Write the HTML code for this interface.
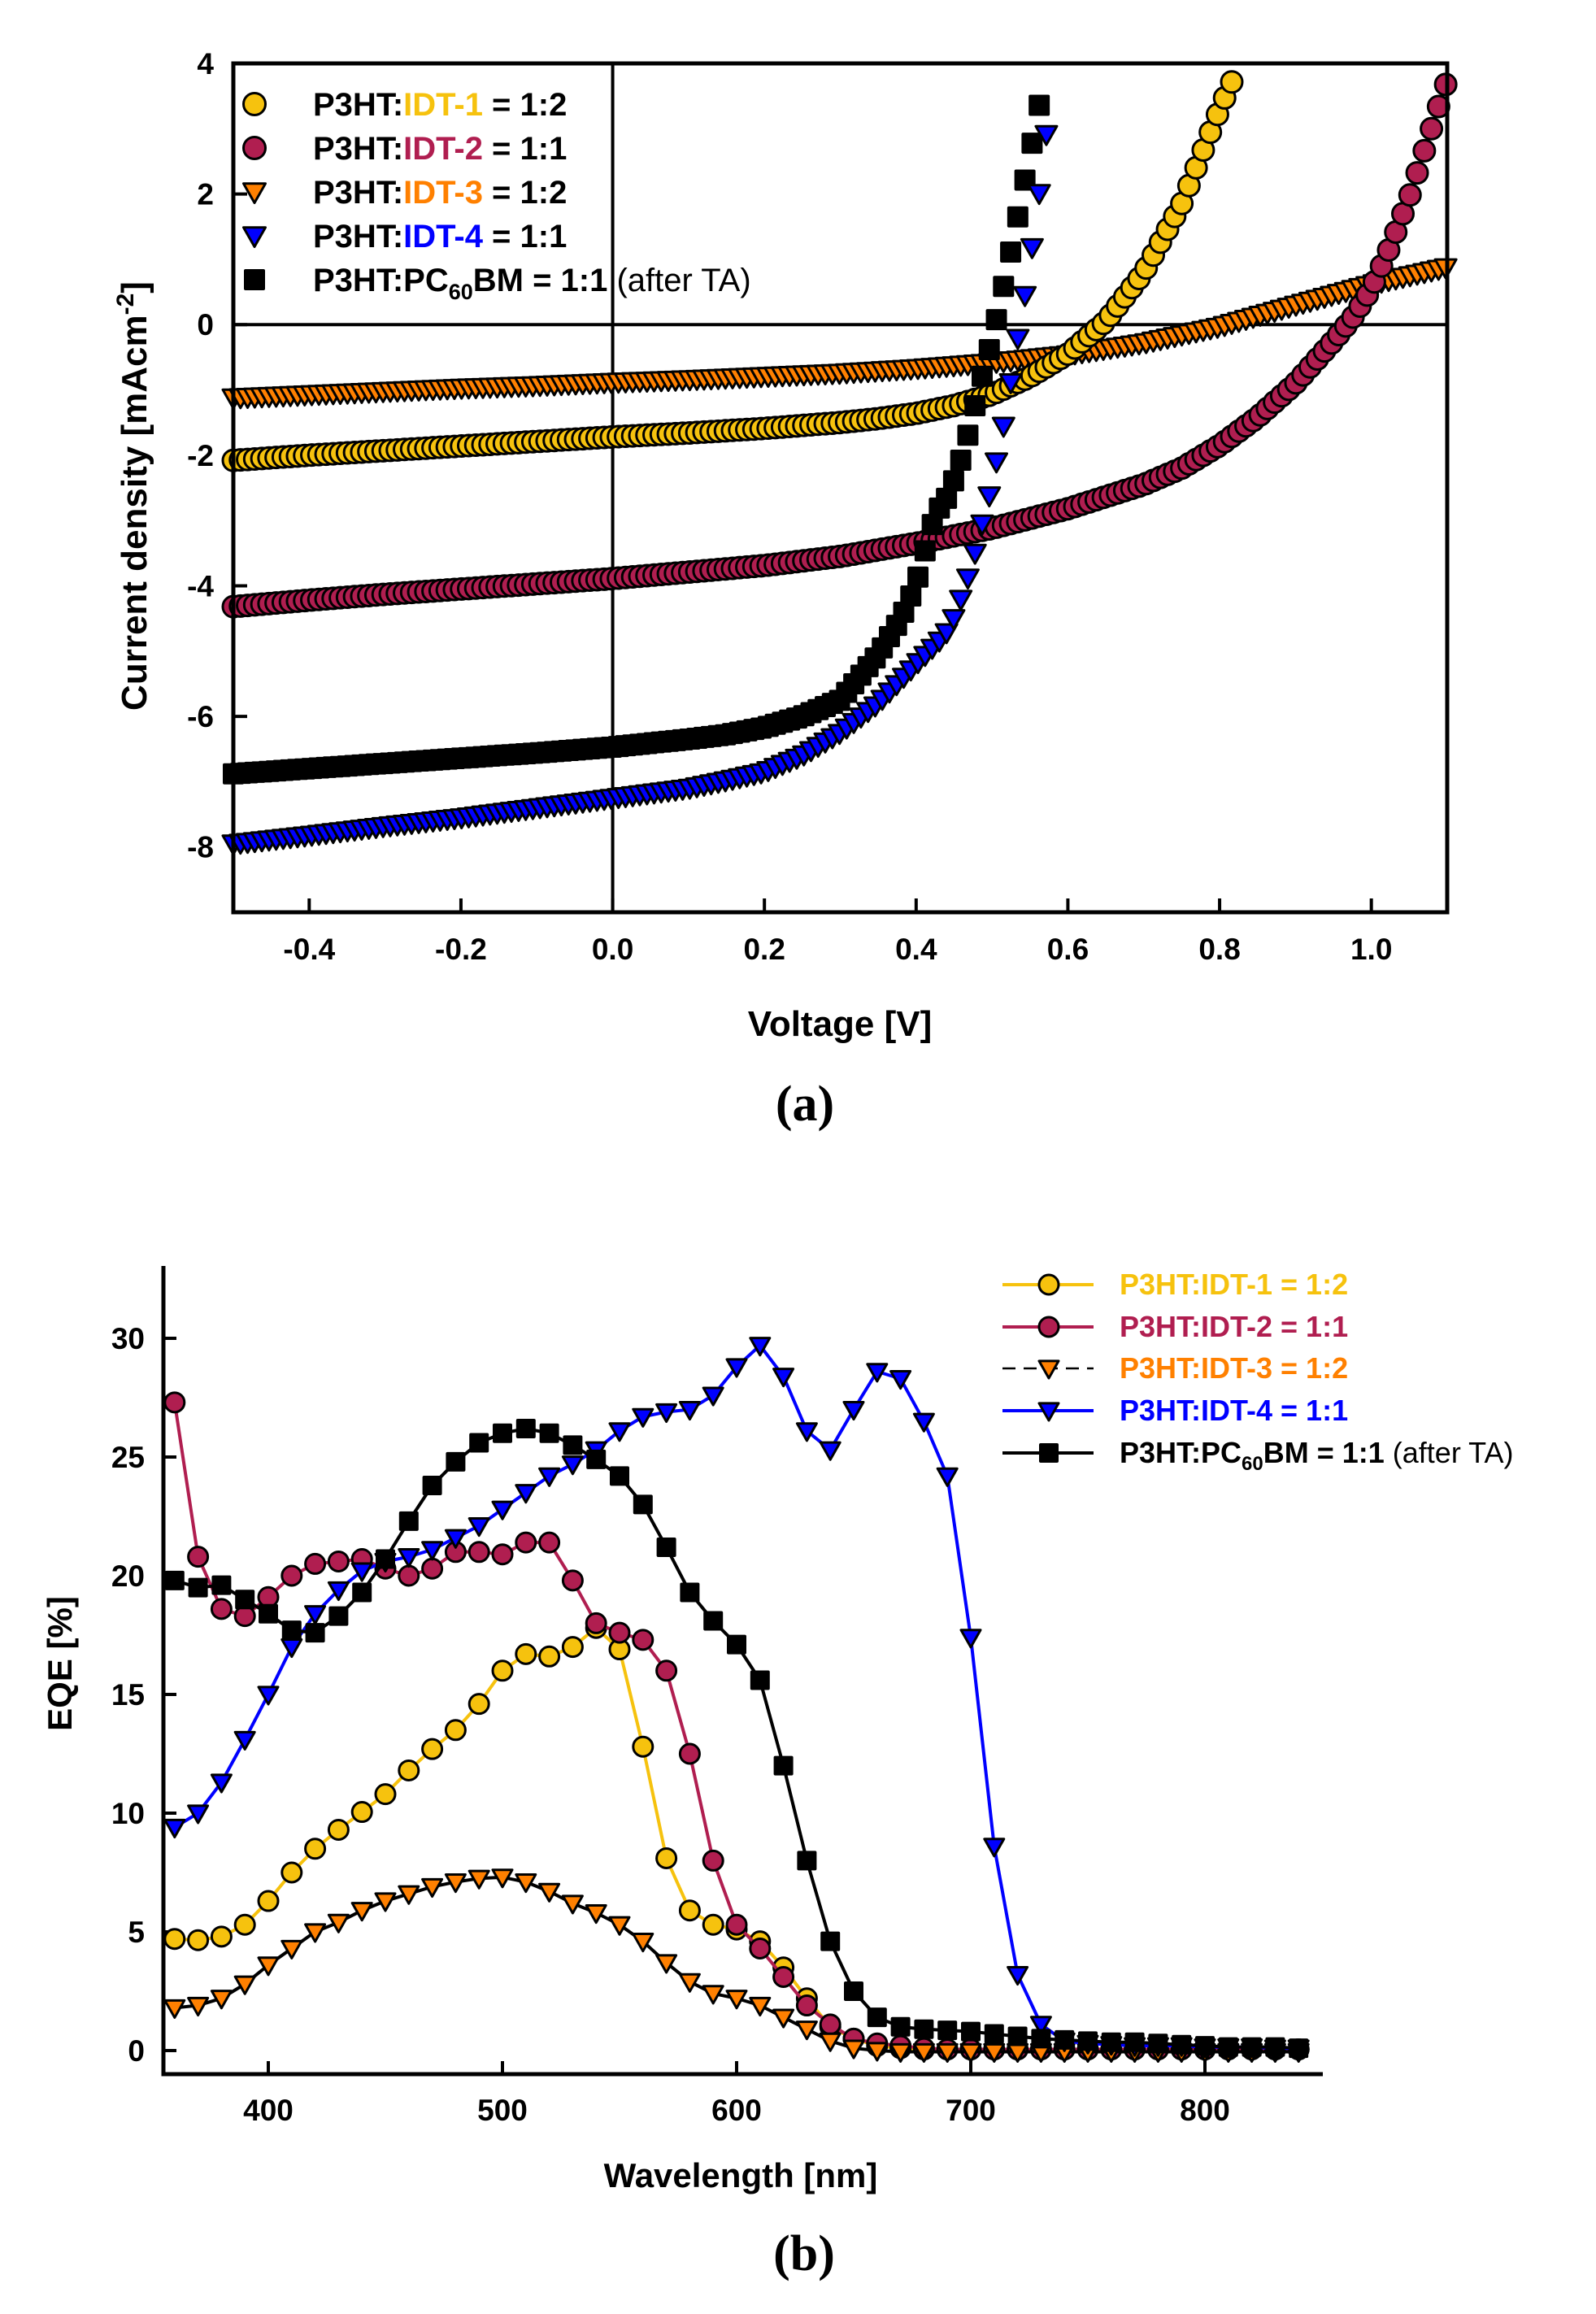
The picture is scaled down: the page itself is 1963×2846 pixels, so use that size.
<!DOCTYPE html>
<html><head><meta charset="utf-8"><style>
html,body{margin:0;padding:0;background:#fff;}
svg{display:block;font-family:"Liberation Sans",sans-serif;}
</style></head><body>
<svg id="chart" width="1963" height="2846" viewBox="0 0 1963 2846" xmlns="http://www.w3.org/2000/svg">
<g id="pa"></g>
<g id="pb"></g>
</svg>
<script>
// ===== Panel (a) data: J-V curves =====
const jvTicksX = [-0.4,-0.2,0.0,0.2,0.4,0.6,0.8,1.0];
const jvTickLabelsX = ["-0.4","-0.2","0.0","0.2","0.4","0.6","0.8","1.0"];
const jvTicksY = [4,2,0,-2,-4,-6,-8];
const jvTickLabelsY = ["4","2","0","-2","-4","-6","-8"];
const idt1V = [-0.5,-0.4,-0.3,-0.2,-0.1,0,0.1,0.2,0.3,0.35,0.4,0.45,0.5,0.55,0.6,0.65,0.7,0.75,0.8,0.825];
const idt1J = [-2.08,-2.0,-1.93,-1.86,-1.79,-1.72,-1.66,-1.59,-1.50,-1.44,-1.36,-1.24,-1.07,-0.80,-0.45,0.05,0.80,1.85,3.30,3.95];
const idt2V = [-0.5,-0.4,-0.3,-0.2,-0.1,0,0.1,0.2,0.3,0.4,0.5,0.6,0.7,0.75,0.8,0.85,0.9,0.95,0.975,1.0,1.025,1.05,1.075,1.1];
const idt2J = [-4.32,-4.22,-4.13,-4.05,-3.97,-3.89,-3.79,-3.69,-3.55,-3.35,-3.12,-2.82,-2.45,-2.2,-1.85,-1.42,-0.90,-0.25,0.1,0.55,1.2,1.95,2.85,3.75];
const idt3V = [-0.5,-0.4,-0.3,-0.2,-0.1,0,0.1,0.2,0.3,0.4,0.5,0.6,0.7,0.8,0.9,1.0,1.1];
const idt3J = [-1.12,-1.07,-1.02,-0.97,-0.93,-0.88,-0.84,-0.79,-0.74,-0.67,-0.58,-0.46,-0.28,-0.03,0.30,0.62,0.88];
const idt4V = [-0.5,-0.4,-0.3,-0.2,-0.1,0,0.1,0.15,0.2,0.25,0.3,0.35,0.4,0.43,0.444,0.453,0.462,0.472,0.481,0.49,0.5,0.509,0.519,0.528,0.538,0.548,0.558,0.567,0.576];
const idt4J = [-7.95,-7.82,-7.68,-7.55,-7.40,-7.25,-7.10,-6.98,-6.85,-6.6,-6.25,-5.8,-5.2,-4.85,-4.66,-4.39,-4.1,-3.74,-3.35,-2.9,-2.46,-1.9,-1.34,-0.61,0.06,0.78,1.62,2.46,3.35];
const pcbmV = [-0.5,-0.4,-0.3,-0.2,-0.1,0,0.1,0.15,0.2,0.25,0.3,0.35,0.38,0.4,0.425,0.44,0.453,0.462,0.472,0.48,0.49,0.501,0.51,0.52,0.529,0.539,0.548,0.558,0.567];
const pcbmJ = [-6.88,-6.8,-6.72,-6.64,-6.56,-6.47,-6.35,-6.28,-6.17,-6.0,-5.75,-5.05,-4.5,-3.97,-2.9,-2.66,-2.29,-1.96,-1.53,-1.12,-0.65,-0.19,0.31,0.84,1.37,1.93,2.51,3.07,3.69];

// ===== Panel (b) data: EQE =====
const wl = [360,370,380,390,400,410,420,430,440,450,460,470,480,490,500,510,520,530,540,550,560,570,580,590,600,610,620,630,640,650,660,670,680,690,700,710,720,730,740,750,760,770,780,790,800,810,820,830,840];
const eqe1 = [4.7,4.65,4.8,5.3,6.3,7.5,8.5,9.3,10.05,10.8,11.8,12.7,13.5,14.6,16.0,16.7,16.6,17.0,17.8,16.9,12.8,8.1,5.9,5.3,5.1,4.6,3.5,2.2,1.0,0.5,0.2,0.1,0.05,0.05,0.05,0.05,0.05,0.05,0.05,0.05,0.05,0.05,0.05,0.05,0.05,0.05,0.05,0.05,0.05];
const eqe2 = [27.3,20.8,18.6,18.3,19.1,20.0,20.5,20.6,20.7,20.3,20.0,20.3,21.0,21.0,20.9,21.4,21.4,19.8,18.0,17.6,17.3,16.0,12.5,8.0,5.3,4.3,3.1,1.9,1.1,0.5,0.3,0.2,0.1,0.05,0.05,0.05,0.05,0.05,0.05,0.05,0.05,0.05,0.05,0.05,0.05,0.05,0.05,0.05,0.05];
const eqe3 = [1.8,1.9,2.2,2.8,3.6,4.3,5.0,5.4,5.9,6.3,6.6,6.9,7.1,7.25,7.3,7.1,6.7,6.2,5.8,5.3,4.6,3.7,2.9,2.4,2.2,1.9,1.4,0.9,0.4,0.1,0.0,-0.05,-0.05,-0.05,-0.05,-0.05,-0.05,-0.05,-0.05,-0.05,-0.05,-0.05,-0.05,-0.05,-0.05,-0.05,-0.05,-0.05,-0.05];
const eqe4 = [9.4,10.0,11.3,13.1,15.0,17.0,18.4,19.4,20.2,20.6,20.8,21.1,21.6,22.1,22.8,23.5,24.2,24.7,25.3,26.1,26.7,26.9,27.0,27.6,28.8,29.7,28.4,26.1,25.3,27.0,28.6,28.3,26.5,24.2,17.4,8.6,3.2,1.1,0.4,0.3,0.25,0.2,0.2,0.2,0.15,0.15,0.15,0.1,0.1];
const eqe5 = [19.8,19.5,19.6,19.0,18.4,17.7,17.6,18.3,19.3,20.7,22.3,23.8,24.8,25.6,26.0,26.2,26.0,25.5,24.9,24.2,23.0,21.2,19.3,18.1,17.1,15.6,12.0,8.0,4.6,2.5,1.4,1.0,0.9,0.85,0.8,0.7,0.6,0.5,0.45,0.4,0.35,0.35,0.3,0.25,0.2,0.15,0.15,0.15,0.1];
const eqeTicksX = [400,500,600,700,800];
const eqeTicksY = [0,5,10,15,20,25,30];

const NS = "http://www.w3.org/2000/svg";
function mk(parent, tag, attrs, text){
  const e = document.createElementNS(NS, tag);
  for (const k in attrs) e.setAttribute(k, attrs[k]);
  if (text !== undefined) e.textContent = text;
  parent.appendChild(e);
  return e;
}
const YEL="#F6C20E", CRI="#B01E50", ORA="#FF8000", BLU="#0000FF";

function marker(g, type, x, y, fill, s){
  let el;
  if (type === "circle") el = mk(g, "circle", {cx:x, cy:y, r:s/2, fill:fill, stroke:"#000", "stroke-width":3});
  else if (type === "tri") el = mk(g, "path", {d:`M${x-s/2},${y-s*0.38}L${x+s/2},${y-s*0.38}L${x},${y+s*0.5}Z`, fill:fill, stroke:"#000", "stroke-width":3, "stroke-linejoin":"round"});
  else el = mk(g, "rect", {x:x-s/2, y:y-s/2, width:s, height:s, rx:2, fill:fill});
  return el;
}

// ----- Panel a -----
const pa = document.getElementById("pa");
const aL=287, aR=1780, aT=78, aB=1122;
const ax = v => aL + (v + 0.5) / 1.6 * (aR - aL);
const ay = j => aT + (4 - j) / 13 * (aB - aT);

jvTicksX.forEach((v,i)=>{
  const t = mk(pa,"line",{x1:ax(v),x2:ax(v),y1:aB,y2:aB-17,stroke:"#000","stroke-width":4});
  
  
  const l = mk(pa,"text",{x:ax(v),y:1180,"font-size":37,"font-weight":"bold","text-anchor":"middle"},jvTickLabelsX[i]);
  
  
});
jvTicksY.forEach((j,i)=>{
  const t = mk(pa,"line",{x1:aL,x2:aL+17,y1:ay(j),y2:ay(j),stroke:"#000","stroke-width":4});
  
  
  const l = mk(pa,"text",{x:263,y:ay(j)+13,"font-size":37,"font-weight":"bold","text-anchor":"end"},jvTickLabelsY[i]);
  
  
});
const zx = mk(pa,"line",{x1:ax(0),x2:ax(0),y1:aT,y2:aB,stroke:"#000","stroke-width":4});


const zy = mk(pa,"line",{x1:aL,x2:aR,y1:ay(0),y2:ay(0),stroke:"#000","stroke-width":4});



function jvSeries(V, J, type, fill, name){
  const g = mk(pa,"g",{});
  
  
  const step = 0.0094;
  for (let v = V[0]; v <= V[V.length-1] + 1e-9; v += step){
    let k = 0; while (k < V.length-2 && V[k+1] < v) k++;
    const t = (v - V[k])/(V[k+1]-V[k]);
    const j = J[k] + t*(J[k+1]-J[k]);
    const m = marker(g, type, ax(v), ay(j), fill, 26);
    
    
  }
}
jvSeries(idt3V, idt3J, "tri", ORA, "idt3-series");
jvSeries(idt1V, idt1J, "circle", YEL, "idt1-series");
jvSeries(idt2V, idt2J, "circle", CRI, "idt2-series");
jvSeries(pcbmV, pcbmJ, "square", "#000", "pcbm-series");
jvSeries(idt4V, idt4J, "tri", BLU, "idt4-series");

const frame = mk(pa,"rect",{x:aL,y:aT,width:aR-aL,height:aB-aT,fill:"none",stroke:"#000","stroke-width":5});



// legend a
const legA = [["circle",YEL,"IDT-1"," = 1:2",YEL],["circle",CRI,"IDT-2"," = 1:1",CRI],["tri",ORA,"IDT-3"," = 1:2",ORA],["tri",BLU,"IDT-4"," = 1:1",BLU]];
const legAY = [128,182,236,290,344];
const lgA = mk(pa,"g",{});


legA.forEach((r,i)=>{
  const m = marker(lgA, r[0], 313, legAY[i], r[1], 27);
  
  
  const t = mk(lgA,"text",{x:385,y:legAY[i]+14,"font-size":40,"font-weight":"bold"});
  
  
  mk(t,"tspan",{},"P3HT:");
  mk(t,"tspan",{fill:r[4]},r[2]);
  mk(t,"tspan",{},r[3]);
});
{
  const m = marker(lgA,"square",313,legAY[4],"#000",26);
  
  
  const t = mk(lgA,"text",{x:385,y:legAY[4]+14,"font-size":40,"font-weight":"bold"});
  
  
  mk(t,"tspan",{},"P3HT:PC");
  mk(t,"tspan",{"font-size":27,dy:10},"60");
  mk(t,"tspan",{dy:-10},"BM = 1:1 ");
  mk(t,"tspan",{"font-weight":"normal"},"(after TA)");
}
const ylA = mk(pa,"text",{x:0,y:0,"font-size":44,"font-weight":"bold","text-anchor":"middle",transform:"translate(180,610) rotate(-90)"});


mk(ylA,"tspan",{},"Current density [mAcm");
mk(ylA,"tspan",{"font-size":30,dy:-16},"-2");
mk(ylA,"tspan",{dy:16},"]");
const xlA = mk(pa,"text",{x:1033,y:1274,"font-size":44,"font-weight":"bold","text-anchor":"middle"},"Voltage [V]");


const capA = mk(pa,"text",{x:990,y:1378,"font-size":62,"font-weight":"bold","font-family":"Liberation Serif, serif","text-anchor":"middle"},"(a)");



// ----- Panel b -----
const pb = document.getElementById("pb");
const bL=201, bR=1627, bT=1557, bB=2551;
const bx = w => 330 + (w - 400) * (1482 - 330) / 400;
const by = e => 2522 - e * (2522 - 1646) / 30;

eqeTicksX.forEach(w=>{
  const t = mk(pb,"line",{x1:bx(w),x2:bx(w),y1:bB,y2:bB-16,stroke:"#000","stroke-width":4});
  
  
  const l = mk(pb,"text",{x:bx(w),y:2608,"font-size":37,"font-weight":"bold","text-anchor":"middle"},String(w));
  
  
});
eqeTicksY.forEach(e=>{
  const t = mk(pb,"line",{x1:bL,x2:bL+16,y1:by(e),y2:by(e),stroke:"#000","stroke-width":4});
  
  
  const l = mk(pb,"text",{x:178,y:by(e)+13,"font-size":37,"font-weight":"bold","text-anchor":"end"},String(e));
  
  
});
const axB = mk(pb,"path",{d:`M${bL},${bT}L${bL},${bB}L${bR},${bB}`,fill:"none",stroke:"#000","stroke-width":5});



function eqeSeries(vals, type, fill, lineColor, dash, name){
  const g = mk(pb,"g",{});
  
  
  const d = vals.map((v,i)=>(i?"L":"M")+bx(wl[i])+","+by(v)).join("");
  const ln = mk(g,"path",{d:d,fill:"none",stroke:lineColor,"stroke-width":dash?2:4,"stroke-dasharray":dash||"none"});
  
  
  vals.forEach((v,i)=>{
    const m = marker(g, type, bx(wl[i]), by(v), fill, 24);
    
    
  });
}
eqeSeries(eqe1,"circle",YEL,YEL,null,"idt1-eqe");
eqeSeries(eqe2,"circle",CRI,CRI,null,"idt2-eqe");
eqeSeries(eqe3,"tri",ORA,"#000",null,"idt3-eqe");
eqeSeries(eqe4,"tri",BLU,BLU,null,"idt4-eqe");
eqeSeries(eqe5,"square","#000","#000",null,"pcbm-eqe");

const legB = [["circle",YEL,YEL,"P3HT:IDT-1 = 1:2",YEL],["circle",CRI,CRI,"P3HT:IDT-2 = 1:1",CRI],["tri",ORA,"#000","P3HT:IDT-3 = 1:2",ORA],["tri",BLU,BLU,"P3HT:IDT-4 = 1:1",BLU]];
const legBY = [1580,1632,1683,1735,1787];
const lgB = mk(pb,"g",{});


legB.forEach((r,i)=>{
  const ln = mk(lgB,"line",{x1:1233,x2:1345,y1:legBY[i],y2:legBY[i],stroke:r[2],"stroke-width":i===2?2.5:4,"stroke-dasharray":i===2?"16,10":"none"});
  
  
  const m = marker(lgB,r[0],1290,legBY[i],r[1],24);
  
  
  const t = mk(lgB,"text",{x:1377,y:legBY[i]+12,"font-size":36,"font-weight":"bold",fill:r[4]},r[3]);
  
  
});
{
  const ln = mk(lgB,"line",{x1:1233,x2:1345,y1:legBY[4],y2:legBY[4],stroke:"#000","stroke-width":4});
  
  
  const m = marker(lgB,"square",1290,legBY[4],"#000",24);
  
  
  const t = mk(lgB,"text",{x:1377,y:legBY[4]+12,"font-size":36,"font-weight":"bold"});
  
  
  mk(t,"tspan",{},"P3HT:PC");
  mk(t,"tspan",{"font-size":24,dy:9},"60");
  mk(t,"tspan",{dy:-9},"BM = 1:1 ");
  mk(t,"tspan",{"font-weight":"normal"},"(after TA)");
}
const ylB = mk(pb,"text",{x:0,y:0,"font-size":42,"font-weight":"bold","text-anchor":"middle",transform:"translate(88,2046) rotate(-90)"},"EQE [%]");


const xlB = mk(pb,"text",{x:911,y:2690,"font-size":42,"font-weight":"bold","text-anchor":"middle"},"Wavelength [nm]");


const capB = mk(pb,"text",{x:989,y:2792,"font-size":62,"font-weight":"bold","font-family":"Liberation Serif, serif","text-anchor":"middle"},"(b)");


</script>
</body></html>
